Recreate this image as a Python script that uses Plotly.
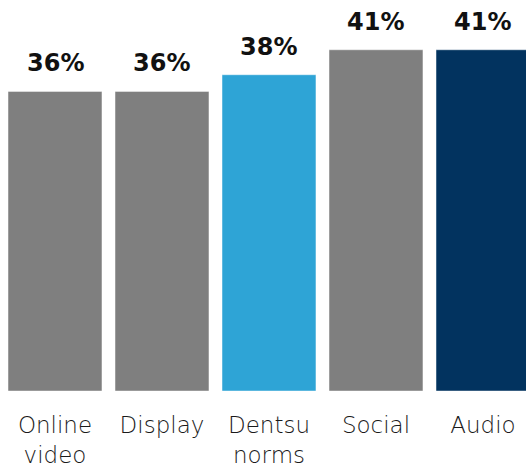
import plotly.graph_objects as go

# Share of respondents by channel
categories = ["Online<br>video", "Display", "Dentsu<br>norms", "Social", "Audio"]
values = [36, 36, 38, 41, 41]
bar_colors = ["#7f7f7f", "#7f7f7f", "#2ea4d6", "#7f7f7f", "#02335f"]

fig = go.Figure(
    go.Bar(
        x=categories,
        y=values,
        width=0.878,
        marker=dict(color=bar_colors, line=dict(color="rgba(255,255,255,0.45)", width=1)),
        hoverinfo="skip",
    )
)

for cat, val in zip(categories, values):
    fig.add_annotation(
        x=cat, y=val, text=f"<b>{val}%</b>", showarrow=False,
        yanchor="bottom", yshift=12,
        font=dict(family="DejaVu Sans, sans-serif", size=24, color="#111111"),
    )

fig.update_layout(
    width=526, height=467,
    margin=dict(l=0, r=0, t=0, b=76),
    paper_bgcolor="white", plot_bgcolor="white",
    showlegend=False,
    xaxis=dict(
        type="category", range=[-0.514, 4.402],
        showgrid=False, zeroline=False, showline=False, ticks="",
        tickfont=dict(family="DejaVu Sans, sans-serif", size=23, color="#1a1a1a", weight=200),
        ticklabelstandoff=18,
    ),
    yaxis=dict(range=[0, 46.98], visible=False),
)

fig.write_html("out.html")
